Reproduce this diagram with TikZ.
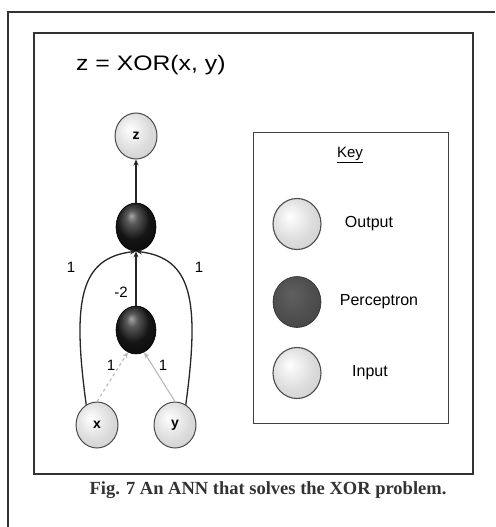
\documentclass[tikz,border=0pt]{standalone}
\usepackage{fontspec}
\setmainfont{Liberation Sans}
\newfontfamily\capfont{Liberation Serif}
\usetikzlibrary{shapes.geometric,arrows.meta}
\pgfdeclareradialshading{lightsph}{\pgfpoint{-8bp}{8bp}}{color(0bp)=(white); color(6bp)=(gray!8); color(22bp)=(gray!28); color(38bp)=(gray!40); color(55bp)=(gray!50)}
\pgfdeclareradialshading{darksph}{\pgfpoint{-6bp}{12bp}}{color(0bp)=(gray!70); color(7bp)=(black!65); color(20bp)=(black!92); color(50bp)=(black)}
\pgfdeclareradialshading{keydarksph}{\pgfpoint{-6bp}{8bp}}{color(0bp)=(gray!75!black); color(20bp)=(gray!62!black); color(40bp)=(gray!50!black); color(55bp)=(gray!40!black)}
\tikzset{
  lightball/.style={ellipse, inner sep=0pt, minimum width=42pt, minimum height=46pt, shading=lightsph, draw=black!70, line width=1pt, font=\fontsize{14}{14}\selectfont\bfseries},
  darkball/.style={ellipse, inner sep=0pt, minimum width=40pt, minimum height=48pt, shading=darksph, draw=black, line width=0.6pt},
  keylight/.style={ellipse, inner sep=0pt, minimum width=48pt, minimum height=51pt, shading=lightsph, draw=black!70, line width=1.1pt},
  keydark/.style={ellipse, inner sep=0pt, minimum width=48pt, minimum height=51pt, shading=keydarksph, draw=gray!35!black, line width=0.6pt},
  conn/.style={line width=1.3pt, draw=black!85, -{Stealth[length=6pt,width=5pt]}},
  weak/.style={line width=1.1pt, draw=gray!55, -{Stealth[length=6pt,width=5pt]}},
  wlabel/.style={font=\fontsize{15}{15}\selectfont, inner sep=1pt},
  keylabel/.style={font=\fontsize{16}{16}\selectfont, anchor=center},
  frame/.style={line width=1.2pt, draw=black!80},
}
\begin{document}
\begin{tikzpicture}[x=1pt,y=-1pt]
\useasboundingbox (0,0) rectangle (495,527);
\fill[white] (0,0) rectangle (495,527);
% outer frame
\draw[frame, line width=1.3pt] (8,527) -- (8,12) -- (495,12);
% inner box
\draw[frame, line width=1.6pt] (34,33) rectangle (473,474);
% title
\node[anchor=west, xscale=1.18, font=\fontsize{21}{21}\selectfont] (title) at (72,65) {z = XOR(x, y)};
% network nodes
\node[lightball] (z) at (136,136) {z};
\node[darkball] (tp) at (136,227) {};
\node[darkball] (lp) at (136,330) {};
\node[lightball] (x) at (97,425) {x};
\node[lightball] (y) at (175,425) {y};
% connectors
\draw[conn] (tp.north) -- (z.south);
\draw[conn] (lp.north) -- (tp.south);
\draw[conn] (x.118) .. controls (72,300) and (80,258) .. (tp.south);
\draw[conn] (y.62) .. controls (200,300) and (192,258) .. (tp.south);
\draw[weak, dashed] (x.north) -- (lp.250);
\draw[weak] (y.north) -- (lp.290);
% weight labels
\node[wlabel] (w1) at (71,267) {1};
\node[wlabel] (w2) at (199,267) {1};
\node[wlabel] (w3) at (121,292) {-2};
\node[wlabel] (w4) at (111,365) {1};
\node[wlabel] (w5) at (163,365) {1};
% key box
\draw[line width=1pt, draw=black!75] (253,132) rectangle (448,423);
\node[font=\fontsize{15}{15}\selectfont] (key) at (350,155) {\underline{Key}};
\node[keylight] (ko) at (297,224) {};
\node[keydark] (kp) at (297,302) {};
\node[keylight] (ki) at (297,373) {};
\node[keylabel] (lo) at (369,224) {Output};
\node[keylabel] (lpn) at (379,302) {Perceptron};
\node[keylabel] (li) at (370,373) {Input};
% caption
\node[font=\capfont\bfseries\fontsize{18.5}{18.5}\selectfont, text=black!80] (cap) at (268,490) {Fig. 7 An ANN that solves the XOR problem.};
\end{tikzpicture}
\end{document}
